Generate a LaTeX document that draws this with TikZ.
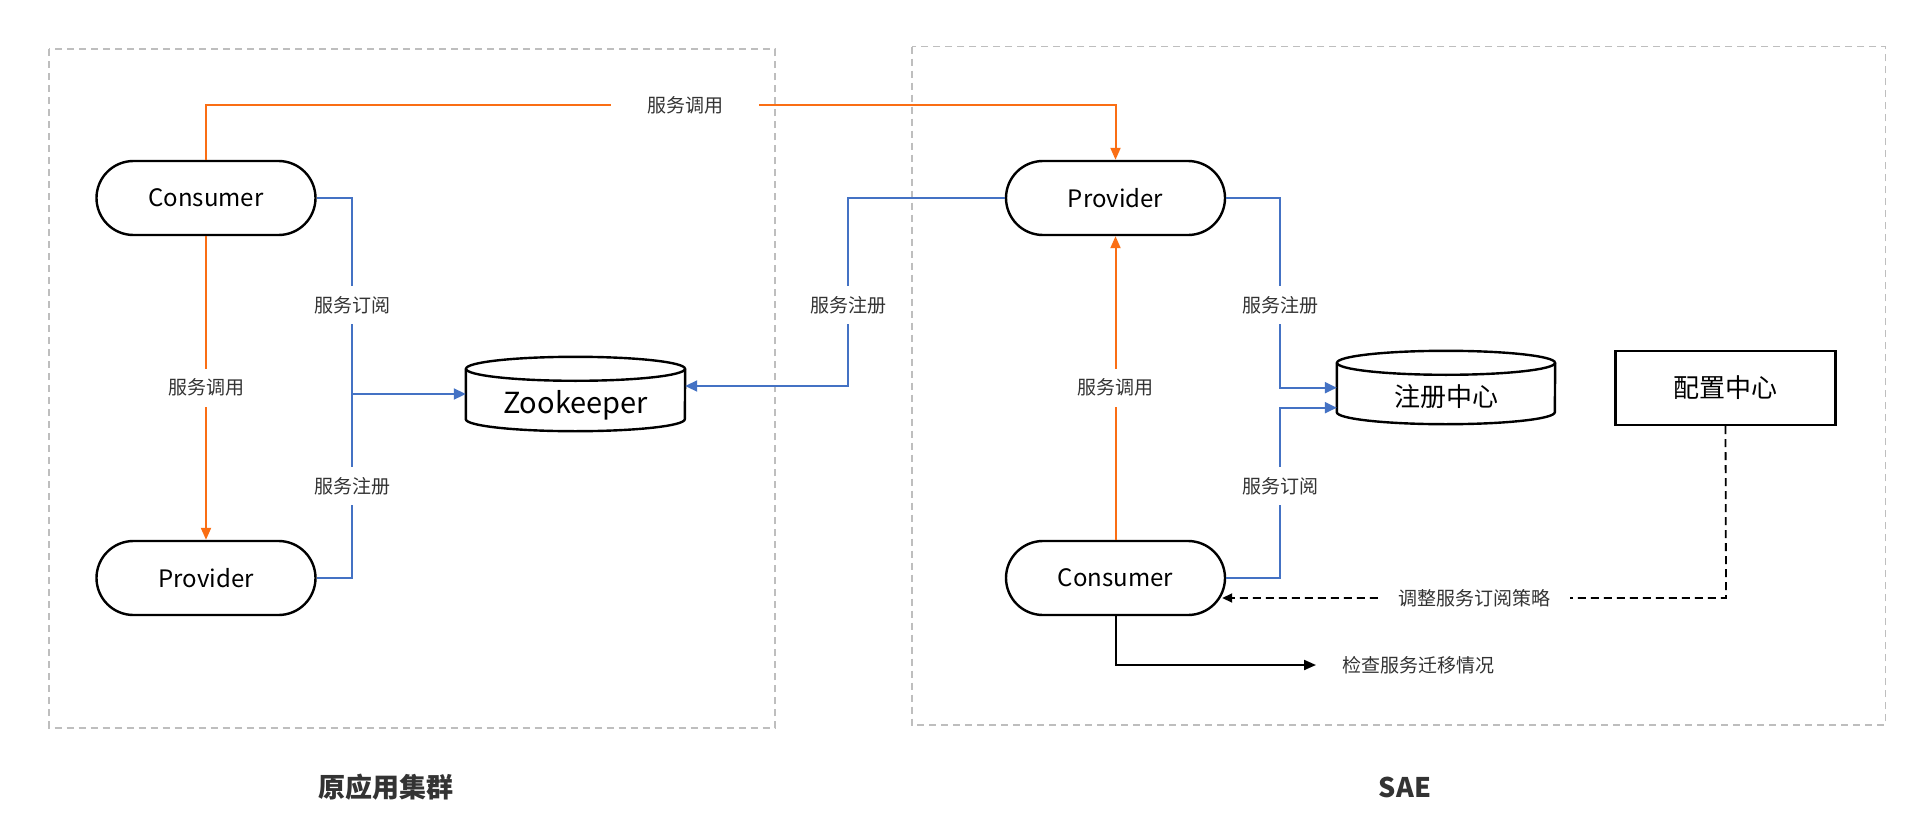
\documentclass[tikz,border=0pt]{standalone}
\usepackage{fontspec}
\setmainfont{Noto Sans CJK SC}
\usetikzlibrary{arrows.meta,shapes.misc}
\definecolor{orng}{RGB}{250,110,20}
\definecolor{blu}{RGB}{68,114,196}
\definecolor{boxgray}{RGB}{190,190,190}
\definecolor{txtgray}{RGB}{51,51,51}
\begin{document}
\begin{tikzpicture}[x=1pt,y=-1pt,
  term/.style={rounded rectangle, draw, line width=2.4pt, minimum width=219pt, minimum height=74pt, inner sep=0pt, font=\fontsize{24}{28}\selectfont},
  cylnode/.style={minimum width=219pt, minimum height=74pt, inner sep=0pt},
  cylline/.style={line width=2.4pt},
  groupbox/.style={draw=boxgray, line width=1.6pt, dash pattern=on 7pt off 5pt},
  orl/.style={draw=orng, line width=2pt, -{Triangle[length=12pt,width=10pt]}},
  bll/.style={draw=blu, line width=2pt, -{Triangle[length=12pt,width=11pt]}},
  bln/.style={draw=blu, line width=2pt},
  lbl/.style={fill=white, text=txtgray, font=\fontsize{19}{23}\selectfont, inner xsep=4pt, inner ysep=10pt},
  grouptitle/.style={text=txtgray, font=\bfseries\fontsize{27}{32}\selectfont},
]
\useasboundingbox[fill=white] (0,0) rectangle (1916,824);

% group boxes
\draw[groupbox] (49,49.3) rectangle (775,727.7);
\draw[groupbox] (911.7,46.7) rectangle (1885.6,725);
\node[grouptitle] (t1) at (386,787) {原应用集群};
\node[grouptitle] (t2) at (1405,787) {SAE};

% nodes
\node[term] (c1) at (206,198) {Consumer};
\node[term] (p1) at (206,578) {Provider};
\node[term] (p2) at (1115.5,198) {Provider};
\node[term] (c2) at (1115.5,578) {Consumer};

\node[cylnode, font=\fontsize{29}{33}\selectfont] (zk) at (575.5,394) {\raisebox{-8pt}[\height][0pt]{Zookeeper}};
\draw[cylline] ([yshift=-12pt]zk.north west) -- ([yshift=12pt]zk.south west)
  arc[start angle=180,end angle=360,x radius=109.5pt,y radius=12pt] -- ([yshift=-12pt]zk.north east);
\draw[cylline] ([yshift=-12pt]zk.north) ellipse[x radius=109.5pt,y radius=12pt];

\node[cylnode, minimum width=218pt, minimum height=73pt, font=\fontsize{26}{30}\selectfont] (reg) at (1446,387.5) {\raisebox{-8pt}[\height][0pt]{注册中心}};
\draw[cylline] ([yshift=-12pt]reg.north west) -- ([yshift=12pt]reg.south west)
  arc[start angle=180,end angle=360,x radius=109pt,y radius=12pt] -- ([yshift=-12pt]reg.north east);
\draw[cylline] ([yshift=-12pt]reg.north) ellipse[x radius=109pt,y radius=12pt];

\node[draw, line width=2.4pt, minimum width=220pt, minimum height=74pt, inner sep=0pt, font=\fontsize{26}{30}\selectfont] (cfg) at (1725.5,388) {配置中心};

% coordinates
\coordinate (a1) at (206,105);
\coordinate (a2) at (1115.5,105);
\coordinate (b1) at (352,198);
\coordinate (b2) at (352,394);
\coordinate (b3) at (352,578);
\coordinate (d1) at (848,198);
\coordinate (d2) at (848,386);
\coordinate (e1) at (1280,198);
\coordinate (e2) at (1280,387.7);
\coordinate (e3) at (1280,578);
\coordinate (e4) at (1280,407.7);
\coordinate (f1) at (1726,598);
\coordinate (g1) at (1115.5,665);

% connectors
\draw[orl] (c1.north) -- (a1) -- (a2) -- (p2.north);
\draw[orl] (c1.south) -- (p1.north);
\draw[orl] (c2.north) -- (p2.south);

\draw[bln] (c1.east) -- (b1) -- (b2);
\draw[bll] (b2) -- (zk.west);
\draw[bln] (p1.east) -- (b3) -- (b2);
\draw[bll] (p2.west) -- (d1) -- (d2) -- (d2 -| zk.east);
\draw[bll] (p2.east) -- (e1) -- (e2) -- (e2 -| reg.west);
\draw[bll] (c2.east) -- (e3) -- (e4) -- (e4 -| reg.west);

\draw[line width=1.8pt, dash pattern=on 8pt off 5pt, -{Triangle[length=10pt,width=9pt]}]
  (cfg.south) -- (f1) -- ([xshift=-4pt,yshift=-20pt]c2.east);

\node[font=\fontsize{19}{23}\selectfont, text=txtgray, anchor=west, inner sep=0pt] (chk) at (1342,665) {检查服务迁移情况};
\draw[line width=2pt, -{Triangle[length=12pt,width=10pt]}, shorten >=26pt] (c2.south) -- (g1) -- (chk.west);

% labels
\node[lbl, inner xsep=36pt, inner ysep=4pt] at (685,105) {服务调用};
\node[lbl] at (206,387.7) {服务调用};
\node[lbl] at (352,305) {服务订阅};
\node[lbl] at (352,486) {服务注册};
\node[lbl] at (848,305) {服务注册};
\node[lbl] at (1280,305) {服务注册};
\node[lbl] at (1280,486) {服务订阅};
\node[lbl] at (1115.5,387.7) {服务调用};
\node[lbl, inner xsep=20pt, inner ysep=4pt] at (1474,598) {调整服务订阅策略};
\end{tikzpicture}
\end{document}
